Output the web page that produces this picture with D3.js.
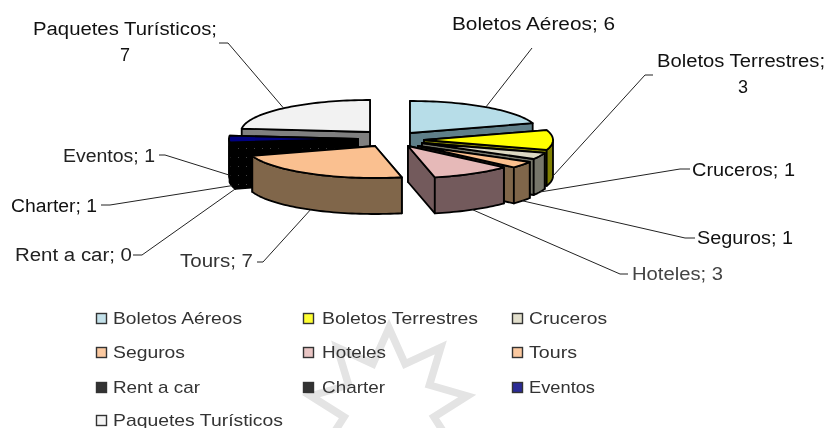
<!DOCTYPE html>
<html>
<head>
<meta charset="utf-8">
<script src="https://cdn.jsdelivr.net/npm/d3@7/dist/d3.min.js"></script>
<style>
html,body{margin:0;padding:0;background:#fff;overflow:hidden}
svg{display:block;filter:blur(0.35px)}
text{font-family:"Liberation Sans",Arial,sans-serif;font-size:18px;fill:#111}
text.leg{font-size:17px;fill:#333}
</style>
</head>
<body>
<svg id="chart" width="830" height="428"></svg>
<script>
// Data
const categories = ["Boletos Aéreos","Boletos Terrestres","Cruceros","Seguros","Hoteles","Tours","Rent a car","Charter","Eventos","Paquetes Turísticos"];
const values     = [6,3,1,1,3,7,0,1,1,7];

// Styles
const topColors  = ["#b7dde8","#ffff00","#ddd9c3","#fcc08e","#e6b9b8","#fac090","#000000","url(#dots)","#000080","#f2f2f2"];
const sideColors = ["#5f7f89","#808000","#76766a","#80664a","#735a5c","#80664a","#000000","url(#dots)","#000000","#808080"];
const legendColors = ["#c3e1ea","#ffff33","#e2dfcc","#fbc9a0","#e9c5c4","#fbc9a0","#333333","#333333","#2b2b96","#f4f4f4"];

// Layout
const rx = 129, ry = 32, depth = 36;
const explodeX = [410,424,422,418,408,375,358,358,358,370];
const explodeY = [133,140,143,146,146,146,143,143,139,132];
const drawOrder = [9,0,8,7,1,2,3,4,5];
const frontAnchored = [false,true,true,true,true,true,true,true,true,false];
const labelMain = ["Boletos Aéreos; 6","Boletos Terrestres;","Cruceros; 1","Seguros; 1","Hoteles; 3","Tours; 7","Rent a car; 0","Charter; 1","Eventos; 1","Paquetes Turísticos;"];
const labelX = [452,657,692,697,632,180,15,11,63,33];
const labelY = [30,67,176,244,280,267,261,212,162,35];
const labelW = [163,168,103,96,91,73,117,86,92,184];
const labelFill = ["#111","#111","#111","#111","#444","#333","#222","#111","#222","#111"];
const secondLine = ["","3","","","","","","","","7"];
const secondX = [0,743,0,0,0,0,0,0,0,125];
const secondY = [0,93,0,0,0,0,0,0,0,61];
const elbowX = [532,645,680,685,620,263,142,110,165,228];
const elbowY = [48,75,169,238,274,262,255,205,155,43];
const stubX  = [532,653,690,695,628,257,133,101,159,219];
const legendCols = [96.5,303.5,512.5];
const legendRows = [313.5,347.5,382.5,415.5];
const legendText = [113,322,529];
const legendW = [129,156,78,72,64,48,87,63,66,170];

const svg = d3.select("#chart");
const defs = svg.append("defs");
const pat = defs.append("pattern").attr("id","dots").attr("width",8).attr("height",9).attr("patternUnits","userSpaceOnUse");
pat.append("rect").attr("width",8).attr("height",9).attr("fill","#000");
pat.append("rect").attr("x",6).attr("y",4).attr("width",1).attr("height",1).attr("fill","#444");

// Watermark star
const starPts = d3.range(0,20).map(i=>[(i-10)*20.5*Math.PI/180, i%2===0?79:46]);
svg.append("path")
  .attr("transform","translate(389,407)")
  .attr("d",d3.lineRadial().curve(d3.curveLinearClosed)(starPts))
  .attr("fill","none").attr("stroke","#e4e4e4").attr("stroke-width",7.5).attr("stroke-linejoin","miter");

const arcs = d3.pie().value(d=>d).sort(null).startAngle(0).endAngle(2*Math.PI)(values);
const px = (i,a)=>explodeX[i]+rx*Math.sin(a);
const py = (i,a)=>explodeY[i]-ry*Math.cos(a);
const line = d3.line();
const g = svg.append("g");

function arcPts(i,a0,a1,h){
  const n = Math.max(2,Math.ceil(Math.abs(a1-a0)/0.03));
  return d3.range(n+1).map(k=>{const a=a0+(a1-a0)*k/n;return [px(i,a),py(i,a)+h];});
}
function radial(i,a){
  const ax=explodeX[i], ay=explodeY[i];
  return [[ax,ay],[px(i,a),py(i,a)],[px(i,a),py(i,a)+depth],[ax,ay+depth]];
}
const stroke = (sel)=>sel.attr("stroke","#000").attr("stroke-width",1.8).attr("stroke-linejoin","round");

drawOrder.forEach(i=>{
  const {startAngle:a0,endAngle:a1} = arcs[i];
  const mid=(a0+a1)/2;
  const faces = mid<Math.PI ? [a0,a1] : [a1,a0];
  faces.forEach(a=>{
    g.append("path").attr("d",line(radial(i,a))+"Z").attr("fill",sideColors[i]).call(stroke);
  });
  const w0=Math.max(a0,Math.PI/2), w1=Math.min(a1,3*Math.PI/2);
  if(w1>w0){
    const pts=arcPts(i,w0,w1,0).concat(arcPts(i,w1,w0,depth));
    g.append("path").attr("d",line(pts)+"Z").attr("fill",sideColors[i]).call(stroke);
  }
  const topPts=[[explodeX[i],explodeY[i]]].concat(arcPts(i,a0,a1,0));
  g.append("path").attr("d",line(topPts)+"Z").attr("fill",topColors[i]).call(stroke);
});

// Leader lines
categories.forEach((c,i)=>{
  const mid=(arcs[i].startAngle+arcs[i].endAngle)/2;
  const sx=px(i,mid), sy=py(i,mid)+(frontAnchored[i]?depth:0);
  svg.append("path")
    .attr("d",line([[sx,sy],[elbowX[i],elbowY[i]],[stubX[i],elbowY[i]]]))
    .attr("fill","none").attr("stroke","#222").attr("stroke-width",1);
});

// Labels
labelMain.forEach((s,i)=>{
  svg.append("text").attr("x",labelX[i]).attr("y",labelY[i])
    .attr("textLength",labelW[i]).attr("lengthAdjust","spacingAndGlyphs")
    .style("fill",labelFill[i]).text(s);
  if(secondLine[i]) svg.append("text").attr("x",secondX[i]).attr("y",secondY[i]).attr("text-anchor","middle").text(secondLine[i]);
});

// Legend
categories.forEach((c,i)=>{
  const col=i%3,row=Math.floor(i/3);
  const lx=legendCols[col], ly=legendRows[row];
  svg.append("rect").attr("x",lx).attr("y",ly).attr("width",10).attr("height",10)
    .attr("fill",legendColors[i]).attr("stroke","#333").attr("stroke-width",1.4);
  svg.append("text").attr("class","leg").attr("x",legendText[col]).attr("y",ly+10)
    .attr("textLength",legendW[i]).attr("lengthAdjust","spacingAndGlyphs").text(c);
});
</script>
</body>
</html>
